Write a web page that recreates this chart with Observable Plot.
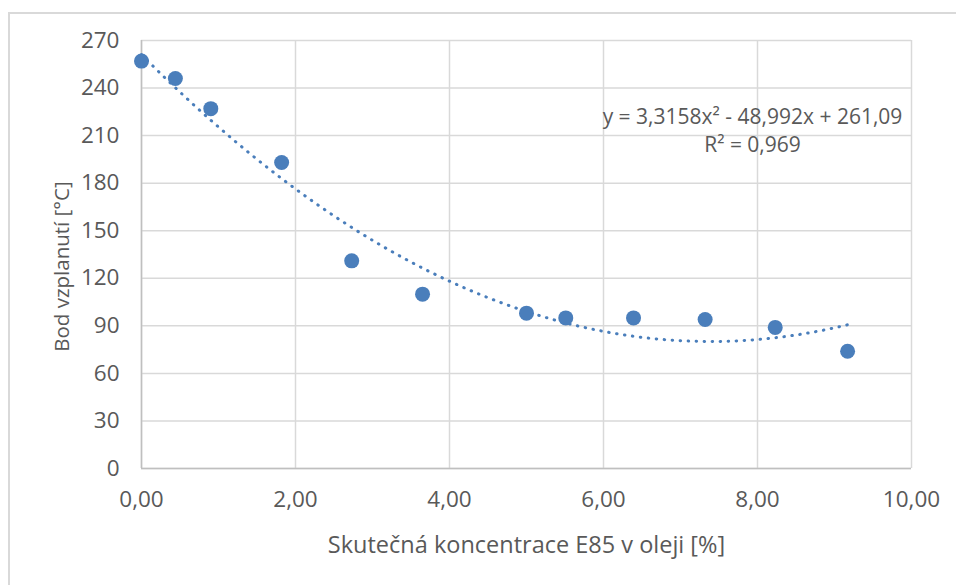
<!DOCTYPE html>
<html>
<head>
<meta charset="utf-8">
<script src="https://cdn.jsdelivr.net/npm/d3@7"></script>
<script src="https://cdn.jsdelivr.net/npm/@observablehq/plot@0.6"></script>
<style>
  html, body { margin: 0; padding: 0; background: #fff; }
  #wrap { position: relative; width: 956px; height: 585px; overflow: hidden; }
  #border { position: absolute; left: 8px; top: 12px; width: 1000px; height: 1000px; border: 2px solid #d9d9d9; box-sizing: border-box; }
  #chart { position: absolute; left: 0; top: 0; }
</style>
</head>
<body>
<div id="wrap"><div id="border"></div><div id="chart"></div></div>
<script>
// Data
const concentration = [0.00, 0.44, 0.90, 1.82, 2.73, 3.65, 5.00, 5.51, 6.39, 7.32, 8.23, 9.17];
const flashPoint    = [257, 246, 227, 193, 131, 110, 98, 95, 95, 94, 89, 74];
const xTicks = [0, 2, 4, 6, 8, 10];
const yTicks = [0, 30, 60, 90, 120, 150, 180, 210, 240, 270];
const trendCoefficients = [3.3158, -48.992, 261.09]; // a, b, c of y = a x^2 + b x + c
const equationText = "y = 3,3158x² - 48,992x + 261,09";
const r2Text = "R² = 0,969";
const xLabel = "Skutečná koncentrace E85 v oleji [%]";
const yLabel = "Bod vzplanutí [°C]";

const points = concentration.map((x, i) => ({x, y: flashPoint[i]}));
const [a, b, c] = trendCoefficients;
const xMax = d3.max(concentration);
const trend = d3.range(0, 201).map(i => {
  const x = xMax * i / 200;
  return {x, y: a * x * x + b * x + c};
});

const blue = "#4a7ebb";
const textColor = "#595959";
const fs = 22.5;
const fmtX = d => d.toFixed(2).replace(".", ",");

const chart = Plot.plot({
  width: 956,
  height: 585,
  marginLeft: 141,
  marginRight: 45,
  marginTop: 40,
  marginBottom: 117,
  style: {fontFamily: "'Open Sans', sans-serif", fontSize: fs + "px", color: textColor, background: "transparent"},
  x: {domain: [0, 10]},
  y: {domain: [0, 270]},
  marks: [
    Plot.gridX(xTicks, {stroke: "#d9d9d9", strokeOpacity: 1, strokeWidth: 1.5}),
    Plot.gridY(yTicks, {stroke: "#d9d9d9", strokeOpacity: 1, strokeWidth: 1.5}),
    Plot.ruleX([0], {stroke: "#bfbfbf", strokeWidth: 1.5}),
    Plot.ruleY([0], {stroke: "#bfbfbf", strokeWidth: 1.5}),
    Plot.axisX(xTicks, {tickSize: 0, tickPadding: 23, tickFormat: fmtX, fontSize: fs, fill: textColor, label: null}),
    Plot.axisY(yTicks, {tickSize: 0, tickPadding: 22, fontSize: fs, fill: textColor, label: null}),
    Plot.text([xLabel], {frameAnchor: "bottom", dy: 77, lineAnchor: "middle", fontSize: 23.5, fill: textColor}),
    Plot.text([yLabel], {frameAnchor: "left", dx: -79, dy: 12, rotate: -90, textAnchor: "middle", lineAnchor: "middle", fontSize: 20.5, fill: textColor}),
    Plot.line(trend, {x: "x", y: "y", stroke: blue, strokeWidth: 3, strokeDasharray: "0.5 7.5", strokeLinecap: "round"}),
    Plot.dot(points, {x: "x", y: "y", r: 7.5, fill: blue, stroke: "none"}),
    Plot.text([equationText], {frameAnchor: "top-right", dx: -159, dy: 77, lineAnchor: "middle", textAnchor: "middle", fontSize: 21, fill: textColor}),
    Plot.text([r2Text], {frameAnchor: "top-right", dx: -159, dy: 105, lineAnchor: "middle", textAnchor: "middle", fontSize: 21, fill: textColor})
  ]
});
document.getElementById("chart").appendChild(chart);
</script>
</body>
</html>
